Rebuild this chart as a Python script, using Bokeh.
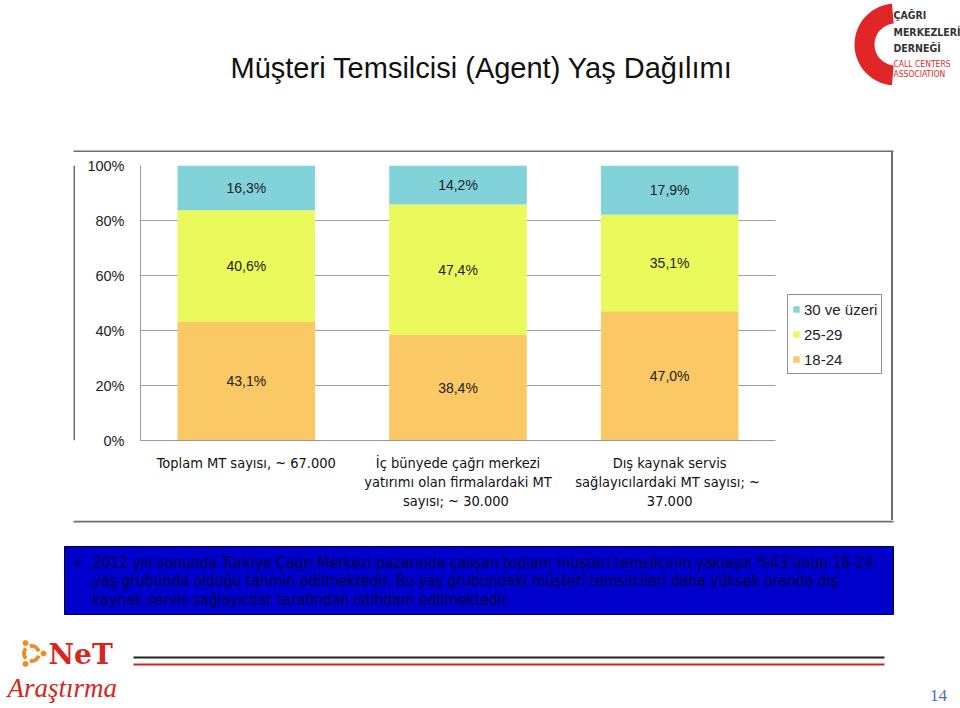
import math
from bokeh.plotting import figure
from bokeh.layouts import column, row
from bokeh.models import (ColumnDataSource, Range1d, Legend, LegendItem, FixedTicker)
from bokeh.embed import file_html
from bokeh.resources import INLINE
from bokeh.core.properties import value

# ---------------- data ----------------
categories = [
    "Toplam MT sayısı, ~ 67.000",
    "İç bünyede çağrı merkezi\nyatırımı olan firmalardaki MT\nsayısı;  ~ 30.000",
    "Dış kaynak servis\nsağlayıcılardaki MT sayısı;  ~\n37.000",
]
age_18_24 = [43.1, 38.4, 47.0]
age_25_29 = [40.6, 47.4, 35.1]
age_30_plus = [16.3, 14.2, 17.9]
series_names = ["18-24", "25-29", "30 ve üzeri"]
series_colors = ["#FAC864", "#EAFA5C", "#82D2DA"]
y_ticks = [0, 20, 40, 60, 80, 100]

title_text = "Müşteri Temsilcisi (Agent) Yaş Dağılımı"
note_lines = [
    "2012 yılı sonunda Türkiye Çağrı Merkezi pazarında çalışan toplam müşteri temsilcinin yaklaşık %43’ünün 18-24",
    "yaş grubunda olduğu tahmin edilmektedir.  Bu yaş grubundaki müşteri temsilcileri daha yüksek oranda dış",
    "kaynak servis sağlayıcılar tarafından istihdam edilmektedir.",
]
logo_lines = ["ÇAĞRI", "MERKEZLERİ", "DERNEĞİ", "CALL CENTERS", "ASSOCIATION"]

SANS = "Liberation Sans"
TAHOMA = "'DejaVu Sans Condensed', 'DejaVu Sans', sans-serif"
SERIF = "Liberation Serif"
NARROW = "'DejaVu Sans Condensed', 'DejaVu Sans', sans-serif"
BOX_GRAY = "#6E6E6E"


def deco(w, h, x0, y0, color="white"):
    """Plain drawing panel whose data units equal page pixels."""
    f = figure(width=w, height=h, output_backend="svg", toolbar_location=None,
               x_range=Range1d(x0, x0 + w), y_range=Range1d(y0 + h, y0),
               x_axis_location=None, y_axis_location=None, min_border=0)
    f.grid.grid_line_color = None
    f.outline_line_color = None
    f.background_fill_color = color
    f.border_fill_color = color
    return f


# ---------------- top strip: title + logo ----------------
top = deco(960, 152, 0, 0)
top.text(x=[230], y=[67], text=[title_text], text_font=value(SANS), text_font_size="29px",
         text_color="#111111", text_baseline="middle", text_align="left")
cx, cy, R, r = 895, 44, 41, 21
angs = [math.radians(95 + k * 170 / 40) for k in range(41)]
cxs = [cx + R * math.cos(a) for a in angs] + [cx + r * math.cos(a) for a in reversed(angs)]
cys = [cy - R * math.sin(a) for a in angs] + [cy - r * math.sin(a) for a in reversed(angs)]
top.patch(cxs, cys, fill_color="#E02626", line_color=None)
top.text(x=[893] * 3, y=[14, 31, 47], text=logo_lines[:3], text_font=value(NARROW),
         text_font_size="10.5px", text_font_style="bold", text_color="#333333",
         text_baseline="middle")
top.text(x=[893] * 2, y=[63, 73], text=logo_lines[3:], text_font=value(NARROW),
         text_font_size="8.5px", text_color="#E02626", text_baseline="middle")
top.quad(left=[73], right=[893], top=[150], bottom=[152], fill_color=BOX_GRAY, line_color=None)

# ---------------- chart ----------------
n = len(categories)
xpos = [i + 0.5 for i in range(n)]
src = ColumnDataSource(dict(x=xpos, s1824=age_18_24, s2529=age_25_29, s30=age_30_plus))
p = figure(width=816, height=368, x_range=Range1d(0, n * 747 / 635), y_range=(0, 100),
           output_backend="svg", toolbar_location=None,
           min_border_left=65, min_border_right=4, min_border_top=13, min_border_bottom=80,
           styles={"box-shadow": "2px 0px 0px 0px #6E6E6E"})
p.outline_line_color = None
p.background_fill_color = "white"
p.border_fill_color = "white"

renderers = p.vbar_stack(["s1824", "s2529", "s30"], x="x", width=0.65, color=series_colors,
                         line_color=None, source=src)

lab_x, lab_y, lab_t = [], [], []
for i in range(n):
    bottom = 0.0
    for vals in (age_18_24, age_25_29, age_30_plus):
        v = vals[i]
        lab_x.append(xpos[i])
        lab_y.append(bottom + v / 2.0)
        lab_t.append(f"{v:.1f}".replace(".", ",") + "%")
        bottom += v
p.text(x=lab_x, y=lab_y, text=lab_t, text_align="center", text_baseline="middle",
       text_font=value(SANS), text_font_size="14px", text_color="#222222")

p.xgrid.grid_line_color = None
p.ygrid.grid_line_color = "#A0A0A0"
p.ygrid.ticker = FixedTicker(ticks=y_ticks)
p.ygrid.cross_bounds = (0, n)
p.yaxis.ticker = FixedTicker(ticks=y_ticks)
p.yaxis.major_label_overrides = {t: f"{t}%" for t in y_ticks}
p.yaxis.major_tick_line_color = None
p.yaxis.minor_tick_line_color = None
p.yaxis.axis_line_color = "#999999"
p.yaxis.major_label_text_font = SANS
p.yaxis.major_label_text_font_size = "14.5px"
p.yaxis.major_label_text_color = "#222222"
p.yaxis.major_label_standoff = 10
p.xaxis.ticker = FixedTicker(ticks=xpos)
p.xaxis.major_label_overrides = {xpos[i]: categories[i] for i in range(n)}
p.xaxis.bounds = (0, n)
p.xaxis.major_tick_line_color = None
p.xaxis.minor_tick_line_color = None
p.xaxis.axis_line_color = "#999999"
p.xaxis.major_label_text_font = TAHOMA
p.xaxis.major_label_text_font_size = "14.5px"
p.xaxis.major_label_text_color = "#111111"
p.xaxis.major_label_text_line_height = 1.2
p.xaxis.major_label_standoff = 8

items = [LegendItem(label=series_names[k], renderers=[renderers[k]]) for k in (2, 1, 0)]
legend = Legend(items=items, location=(647, 66), border_line_color="#222222", border_line_width=1,
                background_fill_color="white", label_text_font=SANS,
                label_text_font_size="15px", label_text_color="#222222",
                glyph_width=8, glyph_height=8, spacing=5, padding=4, margin=0, label_standoff=4,
                label_height=20)
p.add_layout(legend, "center")

pad_l = deco(75, 368, 0, 152)
pad_l.quad(left=[73], right=[75], top=[152], bottom=[520], fill_color=BOX_GRAY, line_color=None)
middle = row(pad_l, p)

# ---------------- bottom strip ----------------
bot = deco(960, 188, 0, 520)
bot.quad(left=[73], right=[893], top=[520], bottom=[522], fill_color=BOX_GRAY, line_color=None)
bot.quad(left=[64], right=[893], top=[546], bottom=[614], fill_color="#0000CC",
         line_color="#000033", line_width=1)
bot.text(x=[73], y=[562], text=["•"], text_font=value(TAHOMA), text_font_size="14px",
         text_color="#000040", text_baseline="middle")
bot.text(x=[92, 92, 92], y=[562, 580.5, 599], text=note_lines, text_font=value(TAHOMA),
         text_font_size="15.6px", text_color="#000040", text_baseline="middle")
bot.quad(left=[133], right=[884], top=[656], bottom=[658], fill_color="#222222", line_color=None)
bot.quad(left=[133], right=[884], top=[663], bottom=[665], fill_color="#D02020", line_color=None)
bot.text(x=[938], y=[695], text=["14"], text_font=value(SERIF), text_font_size="17px",
         text_color="#4A6FB5", text_align="center", text_baseline="middle")
# NeT logo
bot.annular_wedge(x=[31] * 3, y=[653] * 3, inner_radius=6, outer_radius=9,
                  start_angle=[math.radians(a) for a in (20, 140, 260)],
                  end_angle=[math.radians(a) for a in (100, 220, 340)],
                  color="#F08C1E")
bot.scatter(x=[31 + 12 * math.cos(math.radians(a)) for a in (120, 240, 0)],
            y=[653 + 12 * math.sin(math.radians(a)) for a in (120, 240, 0)],
            size=5, color="#F08C1E")
bot.text(x=[48], y=[654], text=["NeT"], text_font=value("DejaVu Serif"), text_font_size="28px",
         text_font_style="bold", text_color="#D8261C", text_baseline="middle")
bot.text(x=[7], y=[687], text=["Araştırma"], text_font=value(SERIF), text_font_size="27px",
         text_font_style="italic", text_color="#D8261C", text_baseline="middle")

page = column(top, middle, bot)
open("out.html", "w").write(file_html(page, INLINE))
